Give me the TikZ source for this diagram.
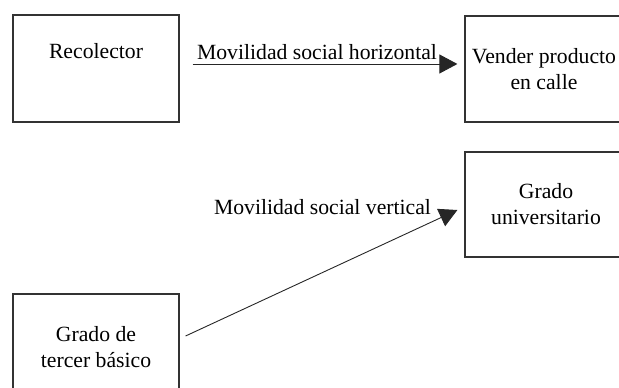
\documentclass[tikz,border=0pt]{standalone}
\usepackage{fontspec}
\setmainfont{Liberation Serif}
\usepackage{tikz}
\usetikzlibrary{%
        arrows.meta,
        positioning
    }
\tikzset{%
    box/.style={%
        draw=black!80, line width=1.2pt, inner sep=0pt, align=center,
        font=\fontsize{21.7}{26}\selectfont
    },
    mobility/.style={%
        draw=black!85, line width=0.9pt,
        -{Triangle[length=18pt, width=19pt]}
    },
    mobilitylabel/.style={%
        inner sep=0pt, font=\fontsize{21.7}{26}\selectfont
    }
}

\begin{document}
\begin{tikzpicture}[x=1pt, y=1pt]

    \useasboundingbox (0, 0) rectangle (619, 388);

    % Top row
    \node[box, minimum width=166pt, text height=44pt, text depth=63pt] (recolector) at (96, 319.5)
        {Recolector};
    \node[box, minimum width=158pt, minimum height=106pt] (vender) at (544, 319)
        {Vender producto\\en calle};

    % Bottom row
    \node[box, minimum width=162pt, minimum height=105pt] (universitario) at (546, 183.5)
        {Grado\\universitario};
    \node[box, minimum width=166pt, minimum height=107pt] (basico) at (96, 40.5)
        {Grado de\\tercer básico};


    % Connecting up
    \draw[mobility]
        ([xshift=13pt, yshift=4.5pt] recolector.east)
        -- ([xshift=-7pt, yshift=5pt] vender.west)
        node[mobilitylabel, midway, above=4pt, xshift=-8pt] (horizontal)
            {Movilidad social horizontal};

    \draw[mobility]
        ([xshift=6pt, yshift=11.5pt] basico.east)
        -- ([xshift=-7pt, yshift=-5.5pt] universitario.west)
        node[mobilitylabel, at end, anchor=base east, xshift=-26pt, yshift=-5pt] (vertical)
            {Movilidad social vertical};

\end{tikzpicture}
\end{document}
